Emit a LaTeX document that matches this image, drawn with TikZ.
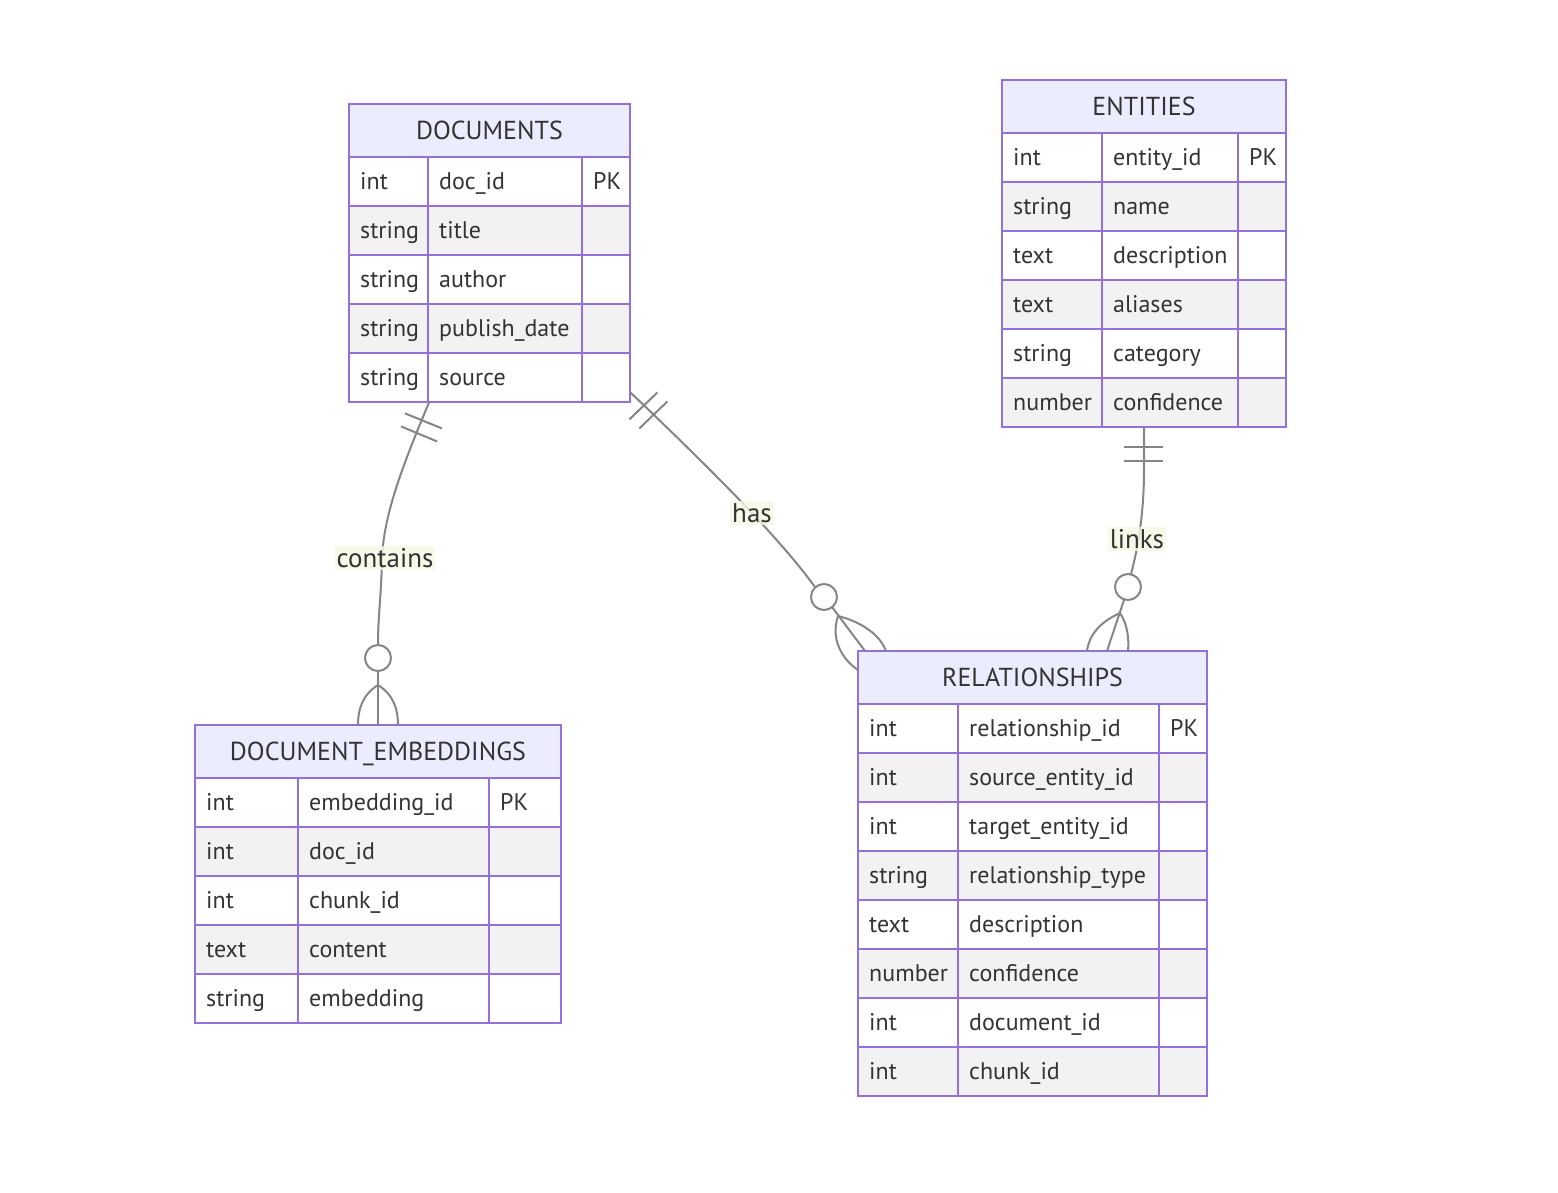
\documentclass[tikz,border=0pt]{standalone}
\usepackage{fontspec}
\setmainfont{PT Sans}
\usetikzlibrary{calc}
\definecolor{hdr}{HTML}{ECECFF}
\definecolor{bord}{HTML}{9370DB}
\definecolor{rowg}{HTML}{F2F2F2}
\definecolor{txt}{HTML}{333333}
\definecolor{relc}{HTML}{858585}
\definecolor{lblbg}{HTML}{F6F9E4}
\tikzset{
 tbl/.style={draw=none, inner sep=0pt, anchor=north west},
 ttl/.style={font=\fontsize{26}{26}\selectfont, text=txt, anchor=base, inner sep=0pt},
 cell/.style={font=\fontsize{24}{24}\selectfont, text=txt, anchor=base west, inner sep=0pt},
 grid/.style={draw=bord, line width=2pt},
 conn/.style={draw=relc, line width=2pt},
 lbl/.style={font=\fontsize{27}{27}\selectfont, text=txt, fill=lblbg, fill opacity=0.8, text opacity=1, inner sep=2pt}
}
\newcommand{\ertable}[8]{%
  \fill[hdr] (#2,#6) rectangle (#5,#6+53);
  \foreach \ta/\tb/\tc [count=\i from 0] in {#8} {
    \pgfmathsetmacro\ya{#6+53+49*\i}
    \pgfmathsetmacro\yb{\ya+49}
    \pgfmathparse{int(mod(\i,2))}
    \ifnum\pgfmathresult=1 \fill[rowg] (#2,\ya) rectangle (#5,\yb);\fi
    \draw[grid] (#2,\ya) -- (#5,\ya);
    \draw[grid] (#3,\ya) -- (#3,\yb);
    \draw[grid] (#4,\ya) -- (#4,\yb);
    \node[cell] (#1-t\i) at (#2+11,\ya+32) {\ta};
    \node[cell] (#1-n\i) at (#3+11,\ya+32) {\tb};
    \node[cell] (#1-k\i) at (#4+11,\ya+32) {\tc};
    \xdef\nrows{\i}
  }
  \pgfmathsetmacro\ybot{#6+53+49*(\nrows+1)}
  \node[tbl, minimum width={(#5-#2)*1pt}, minimum height={(\ybot-#6)*1pt}] (#1) at (#2,#6) {};
  \draw[grid] (#2,#6) rectangle (#5,\ybot);
  \node[ttl] (#1-title) at ({(#2+#5)/2},#6+35) {#7};
}
\begin{document}
\begin{tikzpicture}[x=1pt,y=-1pt]
\useasboundingbox (0,0) rectangle (1558,1192);
\begin{scope}
\ertable{docs}{349}{428}{582}{630}{104}{DOCUMENTS}{int/doc\_id/PK, string/title/{}, string/author/{}, string/publish\_date/{}, string/source/{}}
\ertable{ents}{1002}{1102}{1238}{1286}{80}{ENTITIES}{int/entity\_id/PK, string/name/{}, text/description/{}, text/aliases/{}, string/category/{}, number/confidence/{}}
\ertable{emb}{195}{298}{489}{561}{725}{DOCUMENT\_EMBEDDINGS}{int/embedding\_id/PK, int/doc\_id/{}, int/chunk\_id/{}, text/content/{}, string/embedding/{}}
\ertable{rels}{858}{958}{1159}{1207}{651}{RELATIONSHIPS}{int/relationship\_id/PK, int/source\_entity\_id/{}, int/target\_entity\_id/{}, string/relationship\_type/{}, text/description/{}, number/confidence/{}, int/document\_id/{}, int/chunk\_id/{}}
\end{scope}
% connector end points
\coordinate (c1s) at ([xshift=80pt]docs.south west);
\coordinate (c1e) at ([xshift=183pt]emb.north west);
\coordinate (c2s) at ([yshift=10pt]docs.south east);
\coordinate (c2e) at ([xshift=7pt]rels.north west);
\coordinate (c3s) at ([xshift=142pt]ents.south west);
\coordinate (c3e) at ([xshift=249pt]rels.north west);
% contains
\draw[conn] (c1s) .. controls +(-25,60) and +(1,-45) .. (382,560) .. controls +(-1,40) and +(0,-30) .. (378,645);
\draw[conn] ($(c1s)+(-24,11)$) -- +(37,15);
\draw[conn] ($(c1s)+(-28,24)$) -- +(36,15);
\draw[conn] (378,658) circle (13);
\draw[conn] (378,671) -- (c1e);
\draw[conn] (378,685) .. controls (362,695) and (358,710) .. ([xshift=-20pt]c1e);
\draw[conn] (378,685) .. controls (394,695) and (398,710) .. ([xshift=20pt]c1e);
% has
\draw[conn] (c2s) .. controls +(70,67) and +(-40,-55) .. (815,587);
\draw[conn] ($(c2s)+(-1,27)$) -- +(28,-27);
\draw[conn] ($(c2s)+(9,36)$) -- +(28,-27);
\draw[conn] (824,597) circle (13);
\draw[conn] (832,607) -- (c2e);
\draw[conn] (838,616) .. controls (830,640) and (843,660) .. ([yshift=-19pt]rels.north west);
\draw[conn] (838,616) .. controls (862,622) and (880,635) .. ([xshift=28pt]rels.north west);
% links
\draw[conn] (c3s) -- (1144,470) .. controls (1144,520) and (1136,555) .. (1131,574);
\draw[conn] ($(c3s)+(-20,20)$) -- +(39,0);
\draw[conn] ($(c3s)+(-20,34)$) -- +(39,0);
\draw[conn] (1128,587) circle (13);
\draw[conn] (1124,600) -- (c3e);
\draw[conn] (1120,613) .. controls (1100,622) and (1089,635) .. ([xshift=229pt]rels.north west);
\draw[conn] (1120,613) .. controls (1128,625) and (1129,640) .. ([xshift=270pt]rels.north west);
% labels
\node[lbl] (l1) at (385,558) {contains};
\node[lbl] (l2) at (752,513) {has};
\node[lbl] (l3) at (1137,539) {links};
\end{tikzpicture}
\end{document}
